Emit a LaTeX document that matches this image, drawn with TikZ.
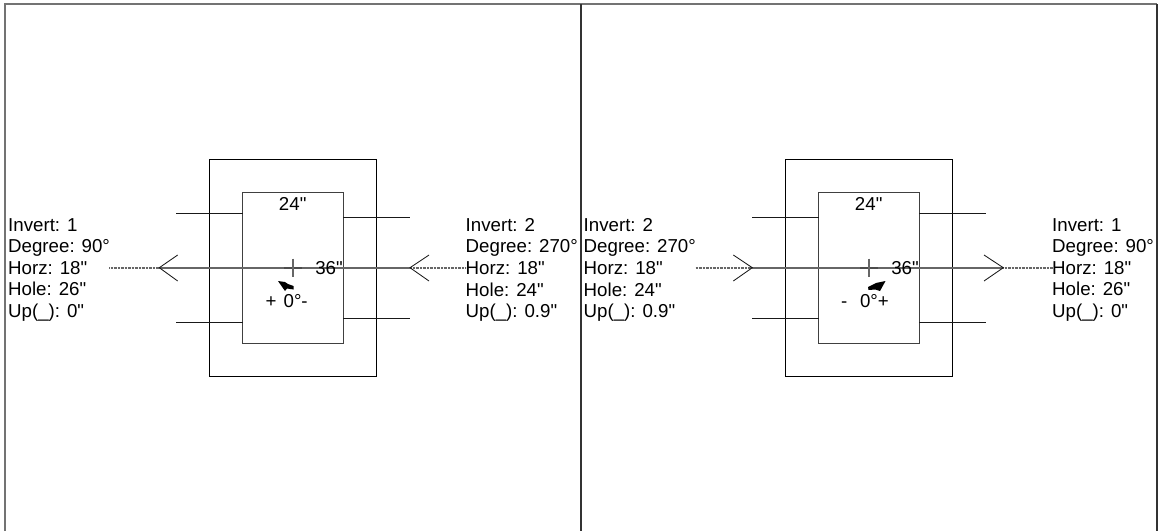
\documentclass[tikz,border=0pt]{standalone}
\usepackage{fontspec}
\newfontfamily\libsans{Liberation Sans}
\tikzset{
  px/.style={x=1pt,y=-1pt},
  ln/.style={draw=black!90,line width=0.85pt},
  frameA/.style={draw=black!55,line width=1.8pt},
  frameB/.style={draw=black!80,line width=1.8pt},
  axis/.style={draw=black!60,line width=1.8pt},
  dots/.style={draw=black!60,line width=1.6pt,dash pattern=on 0.7pt off 0.7pt},
  boxo/.style={draw=black,line width=0.85pt,outer sep=0pt,inner sep=0pt,anchor=north west,minimum width=167.4pt,minimum height=217.7pt},
  boxi/.style={draw=black!75,line width=0.95pt,outer sep=0pt,inner sep=0pt,anchor=north west,minimum width=100.6pt,minimum height=150.7pt},
  tag/.style={font=\libsans\fontsize{18.7}{21.6}\selectfont,inner sep=0pt,anchor=base},
  info/.style={font=\libsans\fontsize{18.7}{21.6}\selectfont,inner sep=0pt,anchor=north west,align=left}
}
\begin{document}
\begin{tikzpicture}[px]
\useasboundingbox (0,0) rectangle (1164,531);
\fill[white] (0,0) rectangle (1164,531);
% frame
\coordinate (ftl) at (5,4); \coordinate (fbl) at (5,531);
\coordinate (ftr) at (1157,4); \coordinate (fbr) at (1157,531);
\coordinate (fmt) at (581,4); \coordinate (fmb) at (581,531);
\draw[frameA] (fbl) -- (ftl) -- (ftr);
\draw[frameB] (ftr) -- (fbr);
\draw[frameB] (fmt) -- (fmb);
% left unit
\node[boxo] (lo) at (209.3,159) {};
\node[boxi] (li) at (242.7,192.3) {};
\coordinate (la) at (176,213.3); \coordinate (lb) at (242.7,213.3);
\coordinate (lc) at (176,322.3); \coordinate (ld) at (242.7,322.3);
\coordinate (le) at (343.3,217.7); \coordinate (lf) at (410,217.7);
\coordinate (lg) at (343.3,318.3); \coordinate (lh) at (410,318.3);
\draw[ln] (la) -- (lb); \draw[ln] (lc) -- (ld); \draw[ln] (le) -- (lf); \draw[ln] (lg) -- (lh);
\coordinate (lt1) at (159.3,267.7); \coordinate (lt2) at (410,267.7);
\coordinate (ldl) at (109.3,267.7); \coordinate (ldr) at (466,267.7);
\draw[dots] (ldl) -- (lt1); \draw[dots] (lt2) -- (ldr);
\draw[axis] (lt1) -- (lt2);
\draw[ln] (177.7,255) -- (lt1) -- (177.7,281);
\draw[ln] (429,255) -- (lt2) -- (429,281);
\draw[draw=black!70,line width=1.9pt] (284,267.7) -- (302,267.7);
\draw[draw=black!60,line width=1.2pt] (293,258.7) -- (293,277);
\fill[black] (278,281) -- (285,282) -- (288,284) -- (293.5,286) -- (293.5,289.5) -- (287,288.5) -- (285,291) -- cycle;
\node[tag] (l24) at (292.7,210) {24"};
\node[tag] (l36) at (329,274.5) {36"};
\node[tag,anchor=base west] (l0) at (265.5,307.7) {+\hspace{7pt}0°-};
\node[info] (lL) at (8,218) {Invert: 1\\Degree: 90°\\Horz: 18"\\Hole: 26"\\Up(\_): 0"};
\node[info] (lR) at (465.5,218) {Invert: 2\\Degree: 270°\\Horz: 18"\\Hole: 24"\\Up(\_): 0.9"};
% right unit
\node[boxo] (ro) at (785.3,159) {};
\node[boxi] (ri) at (818.7,192.3) {};
\coordinate (ra) at (752,217.7); \coordinate (rb) at (818.7,217.7);
\coordinate (rc) at (752,318.3); \coordinate (rd) at (818.7,318.3);
\coordinate (re) at (919.3,213.3); \coordinate (rf) at (985.7,213.3);
\coordinate (rg) at (919.3,322.3); \coordinate (rh) at (985.7,322.3);
\draw[ln] (ra) -- (rb); \draw[ln] (rc) -- (rd); \draw[ln] (re) -- (rf); \draw[ln] (rg) -- (rh);
\coordinate (rt1) at (752.3,267.7); \coordinate (rt2) at (1003.3,267.7);
\coordinate (rdl) at (695.7,267.7); \coordinate (rdr) at (1053,267.7);
\draw[dots] (rdl) -- (rt1); \draw[dots] (rt2) -- (rdr);
\draw[axis] (rt1) -- (rt2);
\draw[ln] (733.3,255) -- (rt1) -- (733.3,281);
\draw[ln] (984,255) -- (rt2) -- (984,281);
\draw[draw=black!70,line width=1.9pt] (860,267.7) -- (878,267.7);
\draw[draw=black!60,line width=1.2pt] (869,258.7) -- (869,277);
\fill[black] (885.5,281) -- (876,283) -- (868,287) -- (868.5,290) -- (875.5,289.5) -- (880,291) -- cycle;
\node[tag] (r24) at (868.7,210) {24"};
\node[tag] (r36) at (905,274.5) {36"};
\node[tag,anchor=base west] (r0) at (841,307.7) {-\hspace{12.6pt}0°+};
\node[info] (rL) at (583.5,218) {Invert: 2\\Degree: 270°\\Horz: 18"\\Hole: 24"\\Up(\_): 0.9"};
\node[info] (rR) at (1052,218) {Invert: 1\\Degree: 90°\\Horz: 18"\\Hole: 26"\\Up(\_): 0"};
\end{tikzpicture}
\end{document}
